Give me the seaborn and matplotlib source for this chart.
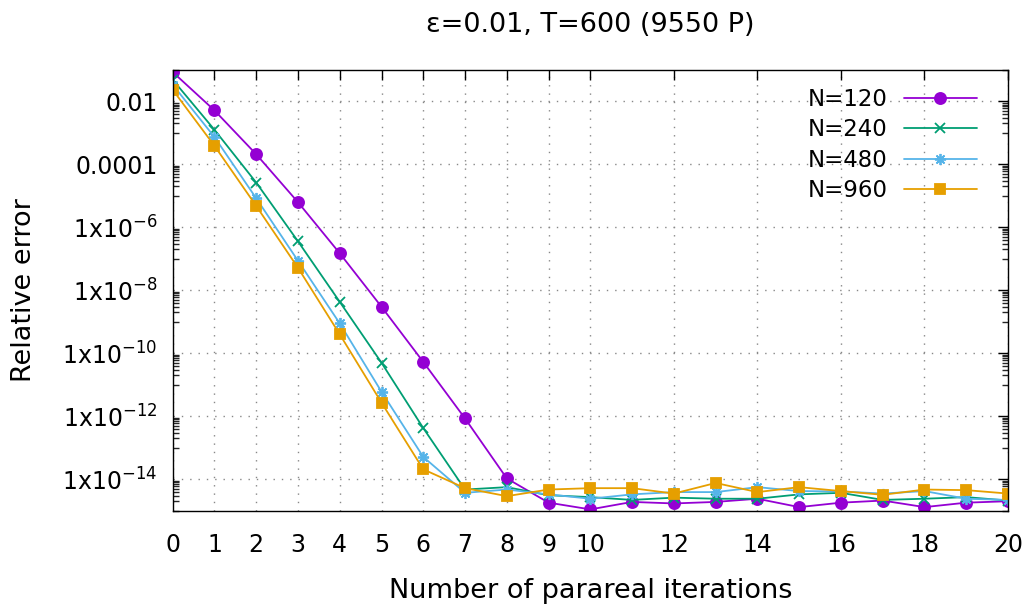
import numpy as np
import pandas as pd
import matplotlib
matplotlib.use("Agg")
import matplotlib.pyplot as plt
import matplotlib.ticker as mticker
import seaborn as sns

# ---- data ----
iterations = list(range(21))
err_n120 = [8.6e-2, 5.2e-3, 2.1e-4, 6.3e-6, 1.5e-7, 3.0e-9, 5.3e-11, 8.5e-13, 1.06e-14, 1.8e-15,
            1.1e-15, 1.9e-15, 1.7e-15, 1.9e-15, 2.4e-15, 1.3e-15, 1.8e-15, 2.1e-15, 1.3e-15, 1.8e-15, 2.0e-15]
err_n240 = [4.9e-2, 1.26e-3, 2.65e-5, 3.6e-7, 4.3e-9, 5.0e-11, 4.2e-13, 4.7e-15, 5.6e-15, 3.1e-15,
            2.7e-15, 2.2e-15, 2.6e-15, 2.4e-15, 2.4e-15, 3.3e-15, 3.7e-15, 2.2e-15, 2.4e-15, 2.7e-15, 2.1e-15]
err_n480 = [3.4e-2, 7.4e-4, 8.4e-6, 8.7e-8, 8.9e-10, 6.0e-12, 5.1e-14, 3.7e-15, 4.7e-15, 3.3e-15,
            2.4e-15, 3.3e-15, 3.9e-15, 3.9e-15, 5.6e-15, 4.2e-15, 4.1e-15, 3.5e-15, 4.2e-15, 2.4e-15, 2.2e-15]
err_n960 = [2.35e-2, 3.9e-4, 4.8e-6, 5.2e-8, 4.0e-10, 2.7e-12, 2.06e-14, 5.2e-15, 2.9e-15, 4.7e-15,
            5.2e-15, 5.2e-15, 3.5e-15, 7.6e-15, 3.9e-15, 5.6e-15, 4.2e-15, 3.2e-15, 4.7e-15, 4.5e-15, 3.5e-15]

series_labels = ["N=120", "N=240", "N=480", "N=960"]
series_values = [err_n120, err_n240, err_n480, err_n960]

x_ticks = [0, 1, 2, 3, 4, 5, 6, 7, 8, 9, 10, 12, 14, 16, 18, 20]
y_major = [1e-2, 1e-4, 1e-6, 1e-8, 1e-10, 1e-12, 1e-14]
y_tick_labels = ["0.01", "0.0001", r"1x10$^{-6}$", r"1x10$^{-8}$", r"1x10$^{-10}$",
                 r"1x10$^{-12}$", r"1x10$^{-14}$"]

title = "ε=0.01, T=600 (9550 P)"
xlabel = "Number of parareal iterations"
ylabel = "Relative error"

# ---- styling ----
colors = ["#9400d3", "#009e73", "#56b4e9", "#e69f00"]
markers = ["o", "x", (8, 2, 0), "s"]
msizes = [8, 7, 8, 7.5]

sns.set_style("white")
plt.rcParams["font.family"] = ["DejaVu Sans"]
plt.rcParams["mathtext.fontset"] = "dejavusans"
plt.rcParams["text.color"] = "black"
plt.rcParams["axes.labelcolor"] = "black"

df = pd.DataFrame({
    "iter": iterations * len(series_labels),
    "err": sum(series_values, []),
    "N": sum([[lab] * len(iterations) for lab in series_labels], []),
})

fig = plt.figure(figsize=(10.30, 6.06), dpi=100)
ax = fig.add_axes([172.7 / 1030, (606 - 510.7) / 606, (1008 - 172.7) / 1030, (510.7 - 70) / 606])

for lab, col, mk, ms in zip(series_labels, colors, markers, msizes):
    sub = df[df["N"] == lab]
    sns.lineplot(data=sub, x="iter", y="err", ax=ax, color=col, marker=mk,
                 markersize=ms, markeredgecolor=col, markeredgewidth=1.3,
                 linewidth=1.3, label=lab, errorbar=None, sort=False)

ax.set_yscale("log")
ax.set_xlim(0, 20)
ax.set_ylim(1e-15, 1e-1)

ax.set_xticks(x_ticks)
ax.set_xticklabels([str(t) for t in x_ticks])
ax.yaxis.set_major_locator(mticker.FixedLocator(y_major))
ax.yaxis.set_major_formatter(mticker.FixedFormatter(y_tick_labels))
minor_vals = [j * 10.0 ** (-e) for e in (1, 3, 5, 7, 9, 11, 13, 15) for j in range(1, 10)]
ax.yaxis.set_minor_locator(mticker.FixedLocator(minor_vals))
ax.yaxis.set_minor_formatter(mticker.NullFormatter())
ax.xaxis.set_minor_locator(mticker.NullLocator())

ax.tick_params(axis="both", which="major", direction="in", length=7, width=1,
               top=True, right=True, labelsize=17, colors="black")
ax.tick_params(axis="y", which="major", pad=11)
ax.tick_params(axis="x", which="major", pad=16)
ax.tick_params(axis="y", which="minor", direction="in", length=4, width=1,
               left=True, right=True)

ax.grid(True, which="major", color="#888888", linestyle=(0, (1, 5)), linewidth=1)
for sp in ax.spines.values():
    sp.set_color("black")
    sp.set_linewidth(1)

ax.set_title(title, fontsize=19.5, pad=27, color="black")
ax.set_xlabel(xlabel, fontsize=19.5, labelpad=15, color="black")
ax.set_ylabel(ylabel, fontsize=19.5, labelpad=18, color="black")

ax.legend(loc="upper right", bbox_to_anchor=(0.963, 0.96), frameon=False,
          markerfirst=False, fontsize=16.5, handlelength=3.2, handletextpad=0.7,
          labelspacing=0.33, borderpad=0, borderaxespad=0, numpoints=1)

fig.savefig("out.png", dpi=100)
